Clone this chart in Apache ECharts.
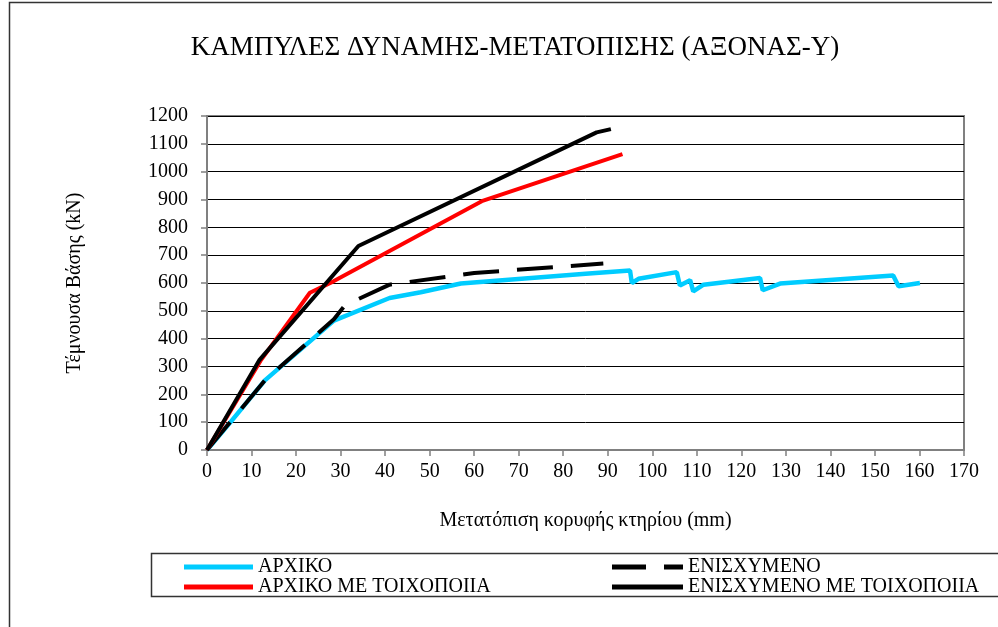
<!DOCTYPE html>
<html>
<head>
<meta charset="utf-8">
<script src="https://cdn.jsdelivr.net/npm/echarts@6/dist/echarts.min.js"></script>
<style>
html,body{margin:0;padding:0;background:#fff;}
#c{width:998px;height:627px;}
</style>
</head>
<body>
<div id="c"></div>
<script>
const seriesNames = ['ΑΡΧΙΚΟ', 'ΕΝΙΣΧΥΜΕΝΟ', 'ΑΡΧΙΚΟ ΜΕ ΤΟΙΧΟΠΟΙΙΑ', 'ΕΝΙΣΧΥΜΕΝΟ ΜΕ ΤΟΙΧΟΠΟΙΙΑ'];

const archikoX = [0, 5, 13, 28.5, 41, 48, 57, 85, 95.0, 95.4, 96.9, 105.5, 106.2, 108.5, 109.2, 111.5, 124.2, 124.8, 128.7, 154.1, 155.3, 160.1];
const archikoY = [0, 95, 250, 465, 546, 567, 598, 633, 645, 600, 615, 639, 591, 610, 570, 594, 618, 574, 598, 627, 588, 600];

const enisxX = [0, 13, 28.5, 31, 41, 60, 89];
const enisxY = [0, 250, 470, 520, 594, 636, 670];

const archikoToixX = [0, 12, 23.1, 28.4, 61.7, 93.3];
const archikoToixY = [0, 320, 565, 606, 894, 1063];

const enisxToixX = [0, 11.8, 34, 87.5, 90.7];
const enisxToixY = [0, 324, 733, 1141, 1153];

const xTicks = [0, 170, 10];   // min, max, interval
const yTicks = [0, 1200, 100];

function pairs(xs, ys) { return xs.map((x, i) => [x, ys[i]]); }

const chart = echarts.init(document.getElementById('c'), null, {renderer: 'canvas'});
const serif = '"Liberation Serif", "DejaVu Serif", serif';
const legendText = {fontFamily: serif, fontSize: 20, lineHeight: 18, color: '#000'};

chart.setOption({
  animation: false,
  backgroundColor: '#fff',
  title: {
    text: 'ΚΑΜΠΥΛΕΣ ΔΥΝΑΜΗΣ-ΜΕΤΑΤΟΠΙΣΗΣ (ΑΞΟΝΑΣ-Υ)',
    left: 510, top: 29, textAlign: 'center',
    textStyle: {fontFamily: serif, fontSize: 27, fontWeight: 'normal', color: '#000'}
  },
  grid: {left: 207, right: 34, top: 116, bottom: 177, containLabel: false,
         show: true, borderColor: '#808080', borderWidth: 2},
  xAxis: {
    type: 'value', min: xTicks[0], max: xTicks[1], interval: xTicks[2],
    name: 'Μετατόπιση κορυφής κτηρίου (mm)', nameLocation: 'middle', nameGap: 61,
    nameTextStyle: {fontFamily: serif, fontSize: 20, color: '#000'},
    axisLine: {lineStyle: {color: '#808080', width: 2}},
    axisTick: {show: true, inside: false, length: 6, lineStyle: {color: '#808080', width: 1.5}},
    axisLabel: {fontFamily: serif, fontSize: 20, color: '#000', margin: 12},
    splitLine: {show: false}
  },
  yAxis: {
    type: 'value', min: yTicks[0], max: yTicks[1], interval: yTicks[2],
    name: 'Τέμνουσα Βάσης (kN)', nameLocation: 'middle', nameGap: 122,
    nameTextStyle: {fontFamily: serif, fontSize: 20, color: '#000'},
    axisLine: {show: true, lineStyle: {color: '#808080', width: 2}},
    axisTick: {show: true, inside: false, length: 6, lineStyle: {color: '#808080', width: 1.5}},
    axisLabel: {fontFamily: serif, fontSize: 20, color: '#000', margin: 19,
                formatter: v => String(v)},
    splitLine: {show: true, lineStyle: {color: '#000', width: 1}}
  },
  legend: [
    {
      data: [
        {name: seriesNames[0], icon: 'rect'},
        {name: seriesNames[2], icon: 'rect'}
      ],
      orient: 'vertical', left: 184, top: 557,
      itemWidth: 69, itemHeight: 5, itemGap: 0,
      textStyle: legendText, padding: 0, selectedMode: false
    },
    {
      data: [
        {name: seriesNames[1], icon: 'path://M0,0h34v5h-34z M52,0h19v5h-19z'},
        {name: seriesNames[3], icon: 'rect'}
      ],
      orient: 'vertical', left: 612, top: 557,
      itemWidth: 71, itemHeight: 5, itemGap: 0,
      textStyle: legendText, padding: 0, selectedMode: false
    }
  ],
  graphic: [
    {type: 'rect', shape: {x: 151.5, y: 553.5, width: 900, height: 43},
     style: {fill: 'none', stroke: '#333', lineWidth: 1.5}, z: -1},
    {type: 'polyline', shape: {points: [[9.5, 640], [9.5, 2.5], [992, 2.5]]},
     style: {fill: 'none', stroke: '#333', lineWidth: 1.5}}
  ],
  series: [
    {name: seriesNames[0], type: 'line', data: pairs(archikoX, archikoY), symbol: 'none',
     lineStyle: {color: '#00ccff', width: 4.5}, itemStyle: {color: '#00ccff'}, z: 2},
    {name: seriesNames[1], type: 'line', data: pairs(enisxX, enisxY), symbol: 'none',
     lineStyle: {color: '#000', width: 4, type: [36, 18]}, itemStyle: {color: '#000'}, z: 3},
    {name: seriesNames[2], type: 'line', data: pairs(archikoToixX, archikoToixY), symbol: 'none',
     lineStyle: {color: '#ff0000', width: 4}, itemStyle: {color: '#ff0000'}, z: 4},
    {name: seriesNames[3], type: 'line', data: pairs(enisxToixX, enisxToixY), symbol: 'none',
     lineStyle: {color: '#000', width: 4}, itemStyle: {color: '#000'}, z: 5}
  ]
});
</script>
</body>
</html>
